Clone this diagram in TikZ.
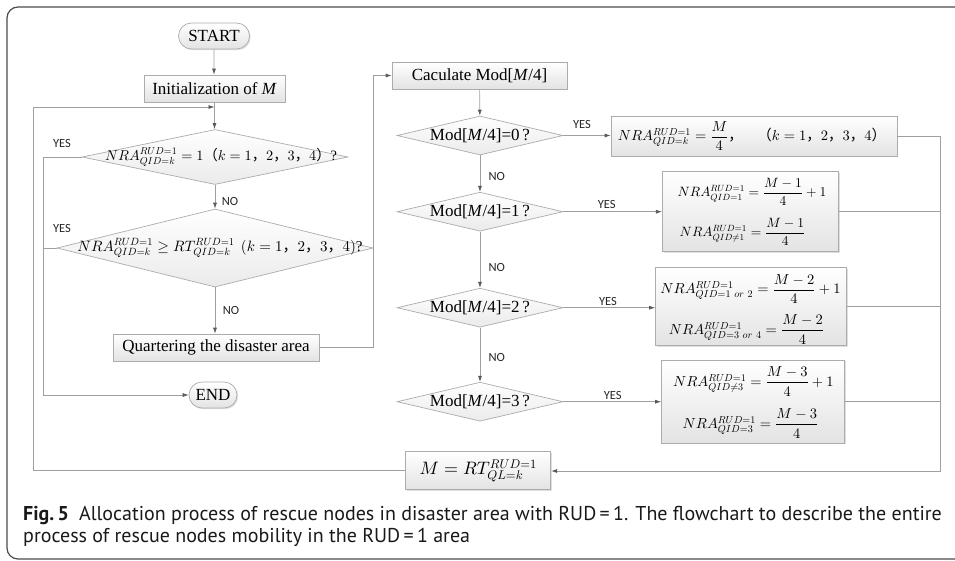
\documentclass[tikz,border=0pt]{standalone}
\usepackage{fix-cm}
\usepackage{amsmath}
\usepackage[no-math]{fontspec}
\setmainfont{Liberation Serif}
\newfontfamily\capfont{PT Sans}
\newfontfamily\lblfont{Carlito}
\newfontfamily\cjk{Noto Sans CJK SC}
\usetikzlibrary{arrows.meta,shapes.geometric,shapes.misc,shadows}
% heavier 10pt designs for the large formula sizes
\DeclareFontShape{OML}{cmm}{m}{it}{<5><6><7><8><9>gen*cmmi<10->cmmi10}{\skewchar\font'177}
\DeclareFontShape{OT1}{cmr}{m}{n}{<5><6><7><8><9>gen*cmr<10->cmr10}{}
\DeclareFontShape{OMS}{cmsy}{m}{n}{<5><6><7><8><9>gen*cmsy<10->cmsy10}{\skewchar\font'60}
% full-width punctuation used inside the formulas
\newcommand{\zc}{\mbox{\cjk ，}}
\newcommand{\zl}{\mbox{\cjk （}}
\newcommand{\zr}{\mbox{\cjk ）}}
\newcommand{\mfs}[1]{\fontsize{#1}{#1}\selectfont}
\begin{document}
\begin{tikzpicture}[x=1pt,y=-1pt]
\tikzset{
  frame/.style={draw=black!70, line width=1.2pt, rounded corners=11pt},
  proc/.style={draw=gray!65, line width=0.7pt, top color=white, bottom color=gray!22,
    inner sep=0pt, font=\fontsize{17}{20}\selectfont,
    drop shadow={shadow xshift=1.2pt, shadow yshift=-1.2pt, opacity=0.25, fill=gray}},
  term/.style={proc, rounded rectangle},
  dia/.style={diamond, draw=gray!65, line width=0.7pt, top color=white, bottom color=gray!16, inner sep=0pt},
  dtext/.style={font=\fontsize{17}{20}\selectfont, inner sep=0pt},
  mtext/.style={inner sep=0pt},
  flow/.style={draw=gray!75, line width=0.7pt},
  arr/.style={flow, -{Latex[length=6pt,width=4pt,color=black!65]}},
  lbl/.style={font=\lblfont\fontsize{12.5}{14}\selectfont, text=black!85, inner sep=0pt},
  captext/.style={font=\capfont\fontsize{20}{22}\selectfont, text=black!90, inner sep=0pt, anchor=base west},
}
\useasboundingbox (0,0) rectangle (955,560);
\draw[frame] (7,7) rectangle (990,559);

% left column
\node[term, minimum width=71pt, minimum height=26pt] (start) at (214,36) {START};
\node[proc, minimum width=141pt, minimum height=27pt] (init) at (214.5,88.5) {Initialization of \textit{M}};
\node[dia, minimum width=266pt, minimum height=55pt] (d1) at (215,157) {};
\node[dtext, font=\mfs{14.3}] (d1t) at (221,157) {$NRA^{RUD=1}_{QID=k}=1\zl k=1\zc 2\zc 3\zc 4\zr$?};
\node[dia, minimum width=316pt, minimum height=78pt] (d2) at (215,248) {};
\node[dtext, font=\mfs{15}] (d2t) at (220,248) {$NRA^{RUD=1}_{QID=k}\geq RT^{RUD=1}_{QID=k}\ \left(k=1\zc 2\zc 3\zc 4\right)$?};
\node[proc, minimum width=206pt, minimum height=27pt] (quart) at (216,347.5) {Quartering the disaster area};
\node[term, minimum width=48pt, minimum height=26pt] (endn) at (213,395) {END};

% right column
\node[proc, minimum width=175pt, minimum height=27pt] (calc) at (479.5,75.5) {Caculate Mod[\textit{M}/4]};
\node[dia, minimum width=166pt, minimum height=39pt] (e0) at (480,135.5) {};
\node[dtext] (e0t) at (e0.center) {Mod[\textit{M}/4]=0\,?};
\node[dia, minimum width=166pt, minimum height=39pt] (e1) at (480,211.7) {};
\node[dtext] (e1t) at (e1.center) {Mod[\textit{M}/4]=1\,?};
\node[dia, minimum width=166pt, minimum height=39pt] (e2) at (480,307.7) {};
\node[dtext] (e2t) at (e2.center) {Mod[\textit{M}/4]=2\,?};
\node[dia, minimum width=166pt, minimum height=39pt] (e3) at (480,401.7) {};
\node[dtext] (e3t) at (e3.center) {Mod[\textit{M}/4]=3\,?};

% result boxes, one node per formula line
\node[proc, minimum width=286pt, minimum height=40pt] (b0) at (754,136) {};
\node[mtext, font=\mfs{14.5}] (b0t) at (752,136) {$NRA^{RUD=1}_{QID=k}=\dfrac{M}{4}$\zc\quad\zl$k=1\zc 2\zc 3\zc 4$\zr};
\node[proc, minimum width=176pt, minimum height=80pt] (b1) at (750.3,211.7) {};
\node[mtext, font=\mfs{13.5}] (b1a) at (752,192) {$NRA^{RUD=1}_{QID=1}=\dfrac{M-1}{4}+1$};
\node[mtext, font=\mfs{13.5}] (b1b) at (742.5,232) {$NRA^{RUD=1}_{QID\neq1}=\dfrac{M-1}{4}$};
\node[proc, minimum width=191pt, minimum height=78pt] (b2) at (751,306.5) {};
\node[mtext, font=\mfs{14.5}] (b2a) at (750.5,289) {$NRA^{RUD=1}_{QID=1\ or\ 2}=\dfrac{M-2}{4}+1$};
\node[mtext, font=\mfs{14.5}] (b2b) at (746.5,329.5) {$NRA^{RUD=1}_{QID=3\ or\ 4}=\dfrac{M-2}{4}$};
\node[proc, minimum width=183pt, minimum height=83pt] (b3) at (753,401.7) {};
\node[mtext, font=\mfs{14.5}] (b3a) at (753.4,381.5) {$NRA^{RUD=1}_{QID\neq3}=\dfrac{M-3}{4}+1$};
\node[mtext, font=\mfs{14.5}] (b3b) at (750.5,423.5) {$NRA^{RUD=1}_{QID=3}=\dfrac{M-3}{4}$};
\node[proc, minimum width=145pt, minimum height=38pt] (mbox) at (478.3,470.8) {};
\node[mtext, font=\mfs{18}] (mboxt) at (478.3,470.8) {$M=RT^{RUD=1}_{QL=k}$};

% junctions and bends
\coordinate (jn) at (214.5,107);
\coordinate (lp) at (33,107);
\coordinate (ly) at (43,157);
\coordinate (qx) at (373,347.5);
\coordinate (rt) at (940,136);
\coordinate (rb) at (940,471);

% connectors, left column
\draw[arr] (start) -- (start |- init.north);
\draw[arr] (init) -- (init |- d1.north);
\draw[arr] (d1) -- (d2);
\draw[arr] (d2.south) -- (d2.south |- quart.north);
\draw[arr] (d1.west) -- (ly) |- (endn.west);
\draw[flow] (d2.west) -- (d2.west -| ly);
\draw[arr] (quart.east) -- (qx) |- (calc.west);
\draw[arr] (mbox.west) -| (lp) -- (jn);

% connectors, right column
\draw[arr] (calc) -- (e0);
\draw[arr] (e0) -- (e1);
\draw[arr] (e1) -- (e2);
\draw[arr] (e2) -- (e3);
\draw[arr] (e0.east) -- (e0.east -| b0.west);
\draw[arr] (e1.east) -- (e1.east -| b1.west);
\draw[arr] (e2.east) -- (e2.east -| b2.west);
\draw[arr] (e3.east) -- (e3.east -| b3.west);
\draw[flow] (b0.east) -- (rt);
\draw[flow] (b1.east) -- (b1.east -| rt);
\draw[flow] (b2.east) -- (b2.east -| rt);
\draw[flow] (b3.east) -- (b3.east -| rt);
\draw[arr] (rt) -- (rb) -- (mbox.east |- rb);

% branch labels
\node[lbl] (y1) at (62,143) {YES};
\node[lbl] (y2) at (62,228) {YES};
\node[lbl] (n1) at (230,201) {NO};
\node[lbl] (n2) at (231,310) {NO};
\node[lbl] (n3) at (496.7,176.7) {NO};
\node[lbl] (n4) at (496.7,267.3) {NO};
\node[lbl] (n5) at (496.7,357.7) {NO};
\node[lbl] (y3) at (582,124) {YES};
\node[lbl] (y4) at (606.7,204) {YES};
\node[lbl] (y5) at (608,301.7) {YES};
\node[lbl] (y6) at (612.7,395) {YES};

% caption
\node[captext] (cap1) at (23,520) {{\bfseries Fig.\,5}\hspace{0.5em}Allocation process of rescue nodes in disaster area with RUD{\,}={\,}1. The flowchart to describe the entire};
\node[captext] (cap2) at (23,542) {process of rescue nodes mobility in the RUD{\,}={\,}1 area};
\end{tikzpicture}
\end{document}
